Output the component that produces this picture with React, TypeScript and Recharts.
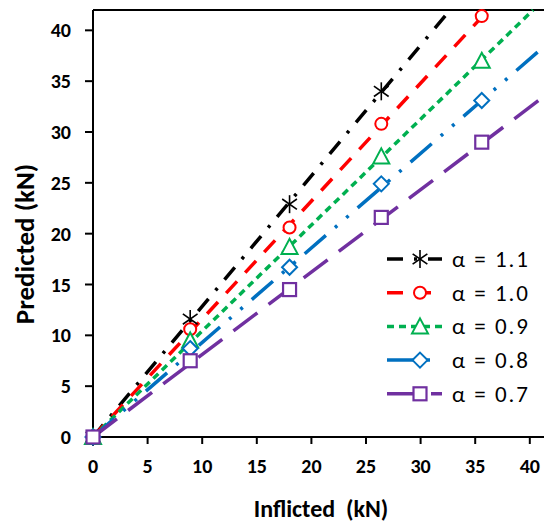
import React from 'react';
import {
  ComposedChart,
  Line,
  Scatter,
  XAxis,
  YAxis,
  ReferenceLine,
  Legend,
  Label,
} from 'recharts';

// measured load points (kN)
const inflicted = [0, 8.9, 18, 26.4, 35.6];
const predAlpha11 = [0, 11.6, 22.9, 34.0];
const predAlpha10 = [0, 10.6, 20.6, 30.8, 41.4];
const predAlpha09 = [0, 9.5, 18.7, 27.6, 37.0];
const predAlpha08 = [0, 8.7, 16.7, 24.9, 33.1];
const predAlpha07 = [0, 7.5, 14.5, 21.6, 29.0];

// linear trend lines: origin and where each one leaves the plot
const trendAlpha11 = [{ x: 0, y: 0 }, { x: 32.7, y: 42 }];
const trendAlpha10 = [{ x: 0, y: 0 }, { x: 36.2, y: 42 }];
const trendAlpha09 = [{ x: 0, y: 0 }, { x: 40.3, y: 42 }];
const trendAlpha08 = [{ x: 0, y: 0 }, { x: 41.3, y: 38.4 }];
const trendAlpha07 = [{ x: 0, y: 0 }, { x: 41.3, y: 33.5 }];

const seriesNames = ['α = 1.1', 'α = 1.0', 'α = 0.9', 'α = 0.8', 'α = 0.7'];
const xTicks = [0, 5, 10, 15, 20, 25, 30, 35, 40];
const yTicks = [0, 5, 10, 15, 20, 25, 30, 35, 40];

const FONT = 'Calibri, Carlito, Lato, sans-serif';

const toPoints = (xs: number[], ys: number[]) => ys.map((y, i) => ({ x: xs[i], y }));

const series = [
  { name: seriesNames[0], pts: predAlpha11, trend: trendAlpha11, color: '#000000', dash: '16 11 3 11', marker: 'star' },
  { name: seriesNames[1], pts: predAlpha10, trend: trendAlpha10, color: '#ff0000', dash: '16 12', marker: 'circle' },
  { name: seriesNames[2], pts: predAlpha09, trend: trendAlpha09, color: '#00b050', dash: '7 5', marker: 'triangle' },
  { name: seriesNames[3], pts: predAlpha08, trend: trendAlpha08, color: '#0070c0', dash: '28 12 3 12 3 12', marker: 'diamond' },
  { name: seriesNames[4], pts: predAlpha07, trend: trendAlpha07, color: '#7030a0', dash: '30 14', marker: 'square' },
];

function Marker({ kind, cx, cy, color }: { kind: string; cx: number; cy: number; color: string }) {
  if (cx == null || cy == null) return null;
  if (kind === 'star') {
    const r = 9;
    const a = (35 * Math.PI) / 180;
    const dx = r * Math.cos(a);
    const dy = r * Math.sin(a);
    return (
      <g stroke={color} strokeWidth={1.6}>
        <line x1={cx} y1={cy - r} x2={cx} y2={cy + r} />
        <line x1={cx - dx} y1={cy - dy} x2={cx + dx} y2={cy + dy} />
        <line x1={cx - dx} y1={cy + dy} x2={cx + dx} y2={cy - dy} />
      </g>
    );
  }
  if (kind === 'circle') {
    return <circle cx={cx} cy={cy} r={6} fill="#fff" stroke={color} strokeWidth={2} />;
  }
  if (kind === 'triangle') {
    return (
      <polygon
        points={`${cx},${cy - 8} ${cx + 8},${cy + 7} ${cx - 8},${cy + 7}`}
        fill="#fff"
        stroke={color}
        strokeWidth={2}
      />
    );
  }
  if (kind === 'diamond') {
    return (
      <polygon
        points={`${cx},${cy - 7.5} ${cx + 7.5},${cy} ${cx},${cy + 7.5} ${cx - 7.5},${cy}`}
        fill="#fff"
        stroke={color}
        strokeWidth={2}
      />
    );
  }
  return <rect x={cx - 6.5} y={cy - 6.5} width={13} height={13} fill="#fff" stroke={color} strokeWidth={2.2} />;
}

function LegendBox() {
  return (
    <svg width={170} height={175}>
      {series.map((s, i) => {
        const y = 19 + i * 33.7;
        return (
          <g key={s.name}>
            <line x1={7} y1={y} x2={62} y2={y} stroke={s.color} strokeWidth={3.5} strokeDasharray={s.dash} />
            <Marker kind={s.marker} cx={40} cy={y} color={s.color} />
            <text x={72} y={y + 8} fontFamily={FONT} fontSize={23} letterSpacing={2} fill="#000">
              {s.name}
            </text>
          </g>
        );
      })}
    </svg>
  );
}

export default function App() {
  return (
    <div style={{ position: 'absolute', left: 0, top: 0, width: 544, height: 525, background: '#fff' }}>
      <ComposedChart width={544} height={525} margin={{ top: 10, right: 0, bottom: 0, left: 0 }}>
        <XAxis
          dataKey="x"
          type="number"
          domain={[0, 41.3]}
          ticks={xTicks}
          interval={0}
          height={88}
          tickSize={7}
          tickMargin={15}
          axisLine={{ stroke: '#000', strokeWidth: 2 }}
          tickLine={{ stroke: '#000', strokeWidth: 2 }}
          tick={{ fill: '#000', fontSize: 20, fontWeight: 700, fontFamily: FONT }}
        >
          <Label
            content={() => (
              <text
                x={321}
                y={517}
                textAnchor="middle"
                fontFamily={FONT}
                fontSize={24}
                fontWeight={700}
                fill="#000"
                style={{ whiteSpace: 'pre' }}
              >
                {'Inflicted  (kN)'}
              </text>
            )}
          />
        </XAxis>
        <YAxis
          dataKey="y"
          type="number"
          domain={[0, 42]}
          ticks={yTicks}
          interval={0}
          width={93}
          tickSize={8}
          tickMargin={14}
          axisLine={{ stroke: '#000', strokeWidth: 2 }}
          tickLine={{ stroke: '#000', strokeWidth: 2 }}
          tick={{ fill: '#000', fontSize: 20, fontWeight: 700, fontFamily: FONT }}
        >
          <Label
            content={() => (
              <text
                x={34}
                y={244}
                transform="rotate(-90, 34, 244)"
                textAnchor="middle"
                fontFamily={FONT}
                fontSize={27}
                fontWeight={700}
                fill="#000"
              >
                Predicted (kN)
              </text>
            )}
          />
        </YAxis>
        <ReferenceLine y={42} stroke="#000" strokeWidth={2} />
        {series.map((s) => (
          <Line
            key={'trend-' + s.name}
            data={s.trend}
            dataKey="y"
            type="linear"
            stroke={s.color}
            strokeWidth={3.5}
            strokeDasharray={s.dash}
            dot={false}
            activeDot={false}
            legendType="none"
            isAnimationActive={false}
          />
        ))}
        {series.map((s) => (
          <Scatter
            key={'pts-' + s.name}
            name={s.name}
            data={toPoints(inflicted, s.pts)}
            dataKey="y"
            shape={(p: any) => <Marker kind={s.marker} cx={p.cx} cy={p.cy} color={s.color} />}
            isAnimationActive={false}
          />
        ))}
        <Legend
          layout="vertical"
          align="center"
          verticalAlign="middle"
          wrapperStyle={{ left: 380, top: 240, width: 170, height: 175 }}
          content={() => <LegendBox />}
        />
      </ComposedChart>
    </div>
  );
}
